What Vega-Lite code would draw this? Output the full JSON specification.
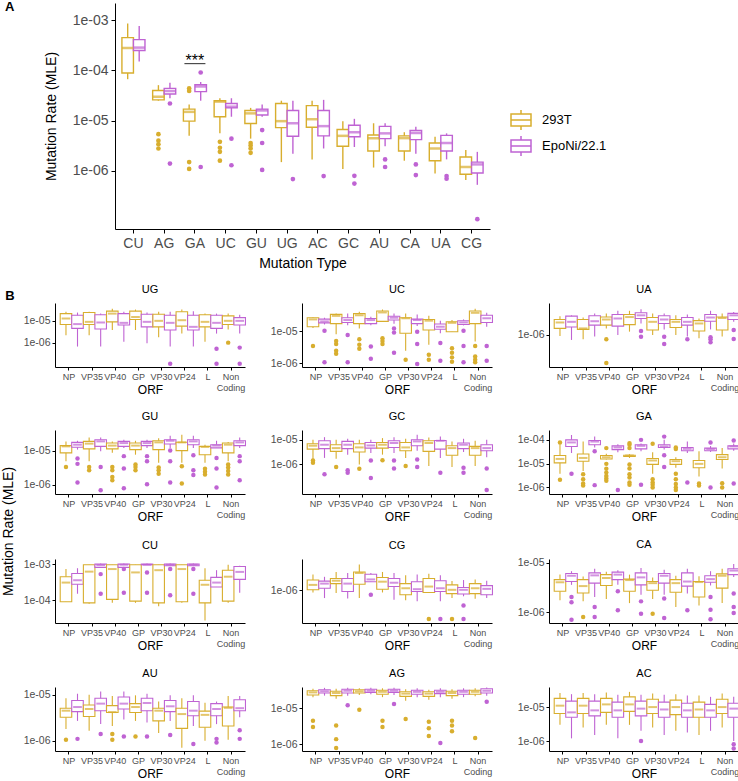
{
"$schema":"https://vega.github.io/schema/vega-lite/v6.json",
"padding":{"left":2,"top":1,"right":0,"bottom":0},
"datasets":{
"boxA":[
{"t":"CU","c":"293T","lo":6.7e-5,"q1":8.9e-5,"md":2.8e-4,"q3":4.5e-4,"hi":8.6e-4},
{"t":"CU","c":"EpoNi/22.1","lo":1.5e-4,"q1":2.5e-4,"md":2.85e-4,"q3":4.1e-4,"hi":7.7e-4},
{"t":"AG","c":"293T","lo":2.5e-5,"q1":2.6e-5,"md":3.0e-5,"q3":4.0e-5,"hi":5.1e-5},
{"t":"AG","c":"EpoNi/22.1","lo":2.8e-5,"q1":3.4e-5,"md":3.9e-5,"q3":4.4e-5,"hi":5.7e-5},
{"t":"GA","c":"293T","lo":5.0e-6,"q1":9.8e-6,"md":1.5e-5,"q3":1.7e-5,"hi":2.1e-5},
{"t":"GA","c":"EpoNi/22.1","lo":2.5e-5,"q1":3.8e-5,"md":4.8e-5,"q3":5.2e-5,"hi":5.9e-5},
{"t":"UC","c":"293T","lo":5.6e-6,"q1":1.2e-5,"md":2.4e-5,"q3":2.5e-5,"hi":2.8e-5},
{"t":"UC","c":"EpoNi/22.1","lo":1.2e-5,"q1":1.8e-5,"md":1.9e-5,"q3":2.2e-5,"hi":2.8e-5},
{"t":"GU","c":"293T","lo":4.4e-6,"q1":8.8e-6,"md":1.4e-5,"q3":1.6e-5,"hi":1.8e-5},
{"t":"GU","c":"EpoNi/22.1","lo":1.2e-5,"q1":1.3e-5,"md":1.6e-5,"q3":1.7e-5,"hi":2.1e-5},
{"t":"UG","c":"293T","lo":1.5e-6,"q1":7.3e-6,"md":9.8e-6,"q3":2.2e-5,"hi":2.5e-5},
{"t":"UG","c":"EpoNi/22.1","lo":2.2e-6,"q1":4.9e-6,"md":8.9e-6,"q3":1.6e-5,"hi":2.5e-5},
{"t":"AC","c":"293T","lo":1.7e-6,"q1":7.4e-6,"md":1.07e-5,"q3":2.0e-5,"hi":2.5e-5},
{"t":"AC","c":"EpoNi/22.1","lo":2.8e-6,"q1":5.0e-6,"md":7.8e-6,"q3":1.6e-5,"hi":2.6e-5},
{"t":"GC","c":"293T","lo":1.1e-6,"q1":3.1e-6,"md":5.0e-6,"q3":6.7e-6,"hi":9.8e-6},
{"t":"GC","c":"EpoNi/22.1","lo":3.0e-6,"q1":4.8e-6,"md":5.9e-6,"q3":8.1e-6,"hi":1.09e-5},
{"t":"AU","c":"293T","lo":1.17e-6,"q1":2.5e-6,"md":4.5e-6,"q3":5.2e-6,"hi":8.9e-6},
{"t":"AU","c":"EpoNi/22.1","lo":3.1e-6,"q1":4.4e-6,"md":5.6e-6,"q3":7.7e-6,"hi":8.9e-6},
{"t":"CA","c":"293T","lo":1.6e-6,"q1":2.5e-6,"md":4.5e-6,"q3":5.0e-6,"hi":5.9e-6},
{"t":"CA","c":"EpoNi/22.1","lo":2.2e-6,"q1":4.2e-6,"md":5.7e-6,"q3":6.4e-6,"hi":7.6e-6},
{"t":"UA","c":"293T","lo":8.9e-7,"q1":1.6e-6,"md":2.8e-6,"q3":3.6e-6,"hi":4.8e-6},
{"t":"UA","c":"EpoNi/22.1","lo":1.7e-6,"q1":2.5e-6,"md":3.6e-6,"q3":5.1e-6,"hi":5.6e-6},
{"t":"CG","c":"293T","lo":6.6e-7,"q1":8.6e-7,"md":1.2e-6,"q3":1.9e-6,"hi":2.6e-6},
{"t":"CG","c":"EpoNi/22.1","lo":5.3e-7,"q1":9.1e-7,"md":1.35e-6,"q3":1.5e-6,"hi":2.4e-6}
],
"ptsA":[
{"t":"AG","c":"293T","v":5.4e-6},{"t":"AG","c":"293T","v":4.0e-6},{"t":"AG","c":"293T","v":3.4e-6},{"t":"AG","c":"293T","v":2.8e-6},
{"t":"AG","c":"EpoNi/22.1","v":2.2e-5},{"t":"AG","c":"EpoNi/22.1","v":1.4e-6},
{"t":"GA","c":"293T","v":4.4e-5},{"t":"GA","c":"293T","v":3.9e-5},{"t":"GA","c":"293T","v":1.5e-6},{"t":"GA","c":"293T","v":1.1e-6},
{"t":"GA","c":"EpoNi/22.1","v":9.1e-5},{"t":"GA","c":"EpoNi/22.1","v":1.2e-6},
{"t":"UC","c":"293T","v":3.8e-6},{"t":"UC","c":"293T","v":2.9e-6},{"t":"UC","c":"293T","v":2.4e-6},{"t":"UC","c":"293T","v":1.6e-6},
{"t":"UC","c":"EpoNi/22.1","v":4.4e-6},{"t":"UC","c":"EpoNi/22.1","v":1.3e-6},
{"t":"GU","c":"293T","v":3.6e-6},{"t":"GU","c":"293T","v":3.2e-6},{"t":"GU","c":"293T","v":2.8e-6},{"t":"GU","c":"293T","v":2.3e-6},
{"t":"GU","c":"EpoNi/22.1","v":6.5e-6},{"t":"GU","c":"EpoNi/22.1","v":3.6e-6},{"t":"GU","c":"EpoNi/22.1","v":1.05e-6},
{"t":"UG","c":"EpoNi/22.1","v":6.9e-7},
{"t":"AC","c":"EpoNi/22.1","v":7.9e-7},
{"t":"GC","c":"EpoNi/22.1","v":8.0e-7},{"t":"GC","c":"EpoNi/22.1","v":5.6e-7},
{"t":"AU","c":"EpoNi/22.1","v":1.7e-6},{"t":"AU","c":"EpoNi/22.1","v":1.2e-6},
{"t":"CA","c":"EpoNi/22.1","v":1.35e-6},{"t":"CA","c":"EpoNi/22.1","v":8.3e-7},
{"t":"UA","c":"EpoNi/22.1","v":7.9e-7},{"t":"UA","c":"EpoNi/22.1","v":7.0e-7},
{"t":"CG","c":"EpoNi/22.1","v":1.1e-7}
],
"annot":[{"t":"GA","y":1.37e-4,"ty":1.23e-4,"label":"***"}],
"boxB":[
{"p":"UG","o":"NP","c":"293T","lo":2.2e-6,"q1":6.8e-6,"md":1.28e-5,"q3":2.15e-5,"hi":2.6e-5},
{"p":"UG","o":"NP","c":"EpoNi/22.1","lo":6.6e-7,"q1":4.5e-6,"md":7.1e-6,"q3":1.8e-5,"hi":2.4e-5},
{"p":"UG","o":"VP35","c":"293T","lo":2.2e-6,"q1":6.8e-6,"md":9.0e-6,"q3":2.4e-5,"hi":2.6e-5},
{"p":"UG","o":"VP35","c":"EpoNi/22.1","lo":6.6e-7,"q1":4.2e-6,"md":8.4e-6,"q3":1.9e-5,"hi":2.15e-5},
{"p":"UG","o":"VP40","c":"293T","lo":3.8e-6,"q1":9.0e-6,"md":2.15e-5,"q3":2.8e-5,"hi":3.6e-5},
{"p":"UG","o":"VP40","c":"EpoNi/22.1","lo":1.1e-6,"q1":6.4e-6,"md":8.1e-6,"q3":2.15e-5,"hi":2.6e-5},
{"p":"UG","o":"GP","c":"293T","lo":3.8e-6,"q1":1.15e-5,"md":1.5e-5,"q3":2.8e-5,"hi":3.3e-5},
{"p":"UG","o":"GP","c":"EpoNi/22.1","lo":9.3e-7,"q1":5.3e-6,"md":9.0e-6,"q3":2.0e-5,"hi":2.4e-5},
{"p":"UG","o":"VP30","c":"293T","lo":1.75e-6,"q1":5.3e-6,"md":1.0e-5,"q3":2.0e-5,"hi":2.6e-5},
{"p":"UG","o":"VP30","c":"EpoNi/22.1","lo":6.6e-7,"q1":3.8e-6,"md":8.1e-6,"q3":1.8e-5,"hi":2.6e-5},
{"p":"UG","o":"VP24","c":"293T","lo":2.6e-6,"q1":5.7e-6,"md":1.07e-5,"q3":2.6e-5,"hi":3.3e-5},
{"p":"UG","o":"VP24","c":"EpoNi/22.1","lo":6.6e-7,"q1":3.8e-6,"md":5.3e-6,"q3":1.8e-5,"hi":2.75e-5},
{"p":"UG","o":"L","c":"293T","lo":1.1e-6,"q1":5.3e-6,"md":9.0e-6,"q3":1.9e-5,"hi":2.15e-5},
{"p":"UG","o":"L","c":"EpoNi/22.1","lo":2.6e-6,"q1":4.5e-6,"md":8.1e-6,"q3":1.8e-5,"hi":2.15e-5},
{"p":"UG","o":"Non Coding","c":"293T","lo":4.0e-6,"q1":6.8e-6,"md":1.0e-5,"q3":1.7e-5,"hi":2.15e-5},
{"p":"UG","o":"Non Coding","c":"EpoNi/22.1","lo":2.6e-6,"q1":6.4e-6,"md":1.0e-5,"q3":1.4e-5,"hi":1.9e-5},
{"p":"UC","o":"NP","c":"293T","lo":1.25e-5,"q1":1.36e-5,"md":2.3e-5,"q3":2.6e-5,"hi":2.7e-5},
{"p":"UC","o":"NP","c":"EpoNi/22.1","lo":1.6e-5,"q1":1.8e-5,"md":2.0e-5,"q3":2.35e-5,"hi":2.6e-5},
{"p":"UC","o":"VP35","c":"293T","lo":7.9e-6,"q1":1.7e-5,"md":2.97e-5,"q3":3.3e-5,"hi":3.5e-5},
{"p":"UC","o":"VP35","c":"EpoNi/22.1","lo":1.5e-5,"q1":1.85e-5,"md":2.2e-5,"q3":2.6e-5,"hi":3.5e-5},
{"p":"UC","o":"VP40","c":"293T","lo":1.2e-5,"q1":1.7e-5,"md":3.1e-5,"q3":3.5e-5,"hi":4.0e-5},
{"p":"UC","o":"VP40","c":"EpoNi/22.1","lo":1.5e-5,"q1":1.7e-5,"md":2.2e-5,"q3":2.45e-5,"hi":2.8e-5},
{"p":"UC","o":"GP","c":"293T","lo":1.95e-5,"q1":2.0e-5,"md":3.8e-5,"q3":4.2e-5,"hi":4.7e-5},
{"p":"UC","o":"GP","c":"EpoNi/22.1","lo":1.7e-5,"q1":2.2e-5,"md":2.6e-5,"q3":2.9e-5,"hi":3.5e-5},
{"p":"UC","o":"VP30","c":"293T","lo":2.4e-6,"q1":8.5e-6,"md":2.5e-5,"q3":2.6e-5,"hi":3.5e-5},
{"p":"UC","o":"VP30","c":"EpoNi/22.1","lo":1.43e-5,"q1":1.7e-5,"md":2.2e-5,"q3":2.35e-5,"hi":3.3e-5},
{"p":"UC","o":"VP24","c":"293T","lo":3.7e-6,"q1":1.07e-5,"md":2.1e-5,"q3":2.3e-5,"hi":3.0e-5},
{"p":"UC","o":"VP24","c":"EpoNi/22.1","lo":8.5e-6,"q1":1.13e-5,"md":1.36e-5,"q3":1.65e-5,"hi":2.1e-5},
{"p":"UC","o":"L","c":"293T","lo":9.5e-6,"q1":9.5e-6,"md":1.8e-5,"q3":1.95e-5,"hi":2.2e-5},
{"p":"UC","o":"L","c":"EpoNi/22.1","lo":1.5e-5,"q1":1.6e-5,"md":1.85e-5,"q3":2.1e-5,"hi":2.3e-5},
{"p":"UC","o":"Non Coding","c":"293T","lo":4.7e-6,"q1":1.7e-5,"md":3.7e-5,"q3":4.2e-5,"hi":5.0e-5},
{"p":"UC","o":"Non Coding","c":"EpoNi/22.1","lo":1.36e-5,"q1":1.85e-5,"md":2.5e-5,"q3":3.1e-5,"hi":3.7e-5},
{"p":"UA","o":"NP","c":"293T","lo":9.4e-7,"q1":1.55e-6,"md":2.3e-6,"q3":2.8e-6,"hi":3.5e-6},
{"p":"UA","o":"NP","c":"EpoNi/22.1","lo":7.2e-7,"q1":1.7e-6,"md":2.4e-6,"q3":3.5e-6,"hi":3.7e-6},
{"p":"UA","o":"VP35","c":"293T","lo":7.5e-7,"q1":1.45e-6,"md":1.55e-6,"q3":2.8e-6,"hi":3.2e-6},
{"p":"UA","o":"VP35","c":"EpoNi/22.1","lo":9.0e-7,"q1":1.93e-6,"md":2.5e-6,"q3":3.6e-6,"hi":4.2e-6},
{"p":"UA","o":"VP40","c":"293T","lo":1.55e-6,"q1":1.93e-6,"md":2.8e-6,"q3":3.3e-6,"hi":4.2e-6},
{"p":"UA","o":"VP40","c":"EpoNi/22.1","lo":1.0e-6,"q1":1.8e-6,"md":3.0e-6,"q3":3.9e-6,"hi":5.0e-6},
{"p":"UA","o":"GP","c":"293T","lo":1.25e-6,"q1":2.0e-6,"md":3.3e-6,"q3":3.9e-6,"hi":5.0e-6},
{"p":"UA","o":"GP","c":"EpoNi/22.1","lo":2.15e-6,"q1":3.0e-6,"md":3.7e-6,"q3":4.4e-6,"hi":5.5e-6},
{"p":"UA","o":"VP30","c":"293T","lo":1.0e-6,"q1":1.4e-6,"md":2.4e-6,"q3":3.2e-6,"hi":4.2e-6},
{"p":"UA","o":"VP30","c":"EpoNi/22.1","lo":1.45e-6,"q1":2.15e-6,"md":2.8e-6,"q3":3.6e-6,"hi":4.2e-6},
{"p":"UA","o":"VP24","c":"293T","lo":1.0e-6,"q1":1.65e-6,"md":2.4e-6,"q3":2.8e-6,"hi":3.7e-6},
{"p":"UA","o":"VP24","c":"EpoNi/22.1","lo":9.0e-7,"q1":1.93e-6,"md":2.4e-6,"q3":3.2e-6,"hi":3.9e-6},
{"p":"UA","o":"L","c":"293T","lo":8.0e-7,"q1":1.3e-6,"md":2.15e-6,"q3":2.6e-6,"hi":3.0e-6},
{"p":"UA","o":"L","c":"EpoNi/22.1","lo":1.45e-6,"q1":2.5e-6,"md":3.2e-6,"q3":3.9e-6,"hi":5.0e-6},
{"p":"UA","o":"Non Coding","c":"293T","lo":9.0e-7,"q1":1.4e-6,"md":3.1e-6,"q3":3.3e-6,"hi":4.2e-6},
{"p":"UA","o":"Non Coding","c":"EpoNi/22.1","lo":2.4e-6,"q1":2.8e-6,"md":3.7e-6,"q3":4.2e-6,"hi":4.6e-6},
{"p":"GU","o":"NP","c":"293T","lo":4.9e-6,"q1":8.6e-6,"md":1.33e-5,"q3":1.4e-5,"hi":1.86e-5},
{"p":"GU","o":"NP","c":"EpoNi/22.1","lo":1.07e-5,"q1":1.25e-5,"md":1.49e-5,"q3":1.74e-5,"hi":1.94e-5},
{"p":"GU","o":"VP35","c":"293T","lo":4.9e-6,"q1":1.12e-5,"md":1.6e-5,"q3":1.86e-5,"hi":2.4e-5},
{"p":"GU","o":"VP35","c":"EpoNi/22.1","lo":9.6e-6,"q1":1.33e-5,"md":1.86e-5,"q3":2.07e-5,"hi":2.4e-5},
{"p":"GU","o":"VP40","c":"293T","lo":8.6e-6,"q1":1.12e-5,"md":1.4e-5,"q3":1.66e-5,"hi":1.86e-5},
{"p":"GU","o":"VP40","c":"EpoNi/22.1","lo":1.2e-5,"q1":1.33e-5,"md":1.66e-5,"q3":1.86e-5,"hi":2.07e-5},
{"p":"GU","o":"GP","c":"293T","lo":7.6e-6,"q1":1.07e-5,"md":1.4e-5,"q3":1.66e-5,"hi":1.94e-5},
{"p":"GU","o":"GP","c":"EpoNi/22.1","lo":1.2e-5,"q1":1.4e-5,"md":1.66e-5,"q3":1.86e-5,"hi":2.07e-5},
{"p":"GU","o":"VP30","c":"293T","lo":4.4e-6,"q1":1.07e-5,"md":1.74e-5,"q3":1.94e-5,"hi":2.3e-5},
{"p":"GU","o":"VP30","c":"EpoNi/22.1","lo":1.2e-5,"q1":1.56e-5,"md":1.94e-5,"q3":2.07e-5,"hi":2.7e-5},
{"p":"GU","o":"VP24","c":"293T","lo":4.4e-6,"q1":1.0e-5,"md":1.74e-5,"q3":1.76e-5,"hi":2.9e-5},
{"p":"GU","o":"VP24","c":"EpoNi/22.1","lo":1.2e-5,"q1":1.49e-5,"md":1.86e-5,"q3":2.07e-5,"hi":2.7e-5},
{"p":"GU","o":"L","c":"293T","lo":4.4e-6,"q1":7.6e-6,"md":1.28e-5,"q3":1.33e-5,"hi":1.49e-5},
{"p":"GU","o":"L","c":"EpoNi/22.1","lo":1.2e-5,"q1":1.2e-5,"md":1.4e-5,"q3":1.49e-5,"hi":1.94e-5},
{"p":"GU","o":"Non Coding","c":"293T","lo":4.9e-6,"q1":8.6e-6,"md":1.49e-5,"q3":1.66e-5,"hi":1.78e-5},
{"p":"GU","o":"Non Coding","c":"EpoNi/22.1","lo":1.2e-5,"q1":1.4e-5,"md":1.74e-5,"q3":1.94e-5,"hi":2.4e-5},
{"p":"GC","o":"NP","c":"293T","lo":1.58e-6,"q1":4.2e-6,"md":5.75e-6,"q3":6.9e-6,"hi":1.0e-5},
{"p":"GC","o":"NP","c":"EpoNi/22.1","lo":1.84e-6,"q1":4.4e-6,"md":6.3e-6,"q3":9.1e-6,"hi":1.28e-5},
{"p":"GC","o":"VP35","c":"293T","lo":1.69e-6,"q1":3.4e-6,"md":4.6e-6,"q3":6.3e-6,"hi":1.0e-5},
{"p":"GC","o":"VP35","c":"EpoNi/22.1","lo":2.5e-6,"q1":4.4e-6,"md":6.3e-6,"q3":8.6e-6,"hi":1.1e-5},
{"p":"GC","o":"VP40","c":"293T","lo":1.0e-6,"q1":3.2e-6,"md":4.9e-6,"q3":6.9e-6,"hi":1.0e-5},
{"p":"GC","o":"VP40","c":"EpoNi/22.1","lo":2.9e-6,"q1":4.6e-6,"md":5.9e-6,"q3":7.8e-6,"hi":1.0e-5},
{"p":"GC","o":"GP","c":"293T","lo":2.5e-6,"q1":4.6e-6,"md":6.3e-6,"q3":7.8e-6,"hi":1.17e-5},
{"p":"GC","o":"GP","c":"EpoNi/22.1","lo":2.9e-6,"q1":4.9e-6,"md":7.4e-6,"q3":9.1e-6,"hi":1.28e-5},
{"p":"GC","o":"VP30","c":"293T","lo":1.84e-6,"q1":3.6e-6,"md":4.9e-6,"q3":7.8e-6,"hi":1.1e-5},
{"p":"GC","o":"VP30","c":"EpoNi/22.1","lo":3.6e-6,"q1":5.75e-6,"md":8.6e-6,"q3":1.0e-5,"hi":1.6e-5},
{"p":"GC","o":"VP24","c":"293T","lo":8.6e-7,"q1":3.4e-6,"md":7.4e-6,"q3":9.1e-6,"hi":1.24e-5},
{"p":"GC","o":"VP24","c":"EpoNi/22.1","lo":1.84e-6,"q1":4.2e-6,"md":9.1e-6,"q3":9.4e-6,"hi":1.36e-5},
{"p":"GC","o":"L","c":"293T","lo":7.8e-7,"q1":2.36e-6,"md":4.6e-6,"q3":5.75e-6,"hi":8.6e-6},
{"p":"GC","o":"L","c":"EpoNi/22.1","lo":3.2e-6,"q1":4.4e-6,"md":6.3e-6,"q3":7.4e-6,"hi":1.1e-5},
{"p":"GC","o":"Non Coding","c":"293T","lo":8.6e-7,"q1":2.36e-6,"md":4.6e-6,"q3":5.4e-6,"hi":9.1e-6},
{"p":"GC","o":"Non Coding","c":"EpoNi/22.1","lo":1.96e-6,"q1":3.6e-6,"md":4.6e-6,"q3":6.3e-6,"hi":1.0e-5},
{"p":"GA","o":"NP","c":"293T","lo":3.8e-6,"q1":1.08e-5,"md":1.58e-5,"q3":2.2e-5,"hi":6.6e-5},
{"p":"GA","o":"NP","c":"EpoNi/22.1","lo":2.8e-5,"q1":5.3e-5,"md":7.8e-5,"q3":1.0e-4,"hi":1.6e-4},
{"p":"GA","o":"VP35","c":"293T","lo":4.9e-6,"q1":1.27e-5,"md":1.74e-5,"q3":2.55e-5,"hi":8.5e-5},
{"p":"GA","o":"VP35","c":"EpoNi/22.1","lo":4.8e-5,"q1":6.2e-5,"md":8.5e-5,"q3":9.4e-5,"hi":1.37e-4},
{"p":"GA","o":"VP40","c":"293T","lo":1.5e-5,"q1":1.58e-5,"md":1.86e-5,"q3":2.2e-5,"hi":2.6e-5},
{"p":"GA","o":"VP40","c":"EpoNi/22.1","lo":3.0e-5,"q1":3.9e-5,"md":4.8e-5,"q3":5.6e-5,"hi":6.6e-5},
{"p":"GA","o":"GP","c":"293T","lo":1.74e-5,"q1":2.0e-5,"md":2.2e-5,"q3":2.25e-5,"hi":2.5e-5},
{"p":"GA","o":"GP","c":"EpoNi/22.1","lo":3.3e-5,"q1":4.2e-5,"md":5.6e-5,"q3":6.2e-5,"hi":7.0e-5},
{"p":"GA","o":"VP30","c":"293T","lo":3.8e-6,"q1":9.3e-6,"md":1.36e-5,"q3":1.64e-5,"hi":3.0e-5},
{"p":"GA","o":"VP30","c":"EpoNi/22.1","lo":3.9e-5,"q1":4.8e-5,"md":5.3e-5,"q3":6.2e-5,"hi":1.0e-4},
{"p":"GA","o":"VP24","c":"293T","lo":6.7e-6,"q1":9.3e-6,"md":1.27e-5,"q3":1.5e-5,"hi":1.86e-5},
{"p":"GA","o":"VP24","c":"EpoNi/22.1","lo":2.8e-5,"q1":3.5e-5,"md":4.2e-5,"q3":4.8e-5,"hi":8.5e-5},
{"p":"GA","o":"L","c":"293T","lo":2.9e-6,"q1":6.7e-6,"md":9.8e-6,"q3":1.36e-5,"hi":3.3e-5},
{"p":"GA","o":"L","c":"EpoNi/22.1","lo":3.1e-5,"q1":3.5e-5,"md":4.1e-5,"q3":4.5e-5,"hi":5.5e-5},
{"p":"GA","o":"Non Coding","c":"293T","lo":6.3e-6,"q1":1.5e-5,"md":1.86e-5,"q3":2.4e-5,"hi":4.5e-5},
{"p":"GA","o":"Non Coding","c":"EpoNi/22.1","lo":3.5e-5,"q1":4.2e-5,"md":5.3e-5,"q3":5.6e-5,"hi":7.0e-5},
{"p":"CU","o":"NP","c":"293T","lo":9.2e-5,"q1":9.2e-5,"md":3.1e-4,"q3":4.5e-4,"hi":7.3e-4},
{"p":"CU","o":"NP","c":"EpoNi/22.1","lo":1.53e-4,"q1":2.8e-4,"md":3.6e-4,"q3":5.5e-4,"hi":7.7e-4},
{"p":"CU","o":"VP35","c":"293T","lo":8.1e-5,"q1":8.6e-5,"md":6.2e-4,"q3":9.6e-4,"hi":9.6e-4},
{"p":"CU","o":"VP35","c":"EpoNi/22.1","lo":8.1e-4,"q1":8.1e-4,"md":9.4e-4,"q3":1.0e-3,"hi":1.04e-3},
{"p":"CU","o":"VP40","c":"293T","lo":8.6e-5,"q1":1.07e-4,"md":7.3e-4,"q3":9.6e-4,"hi":9.6e-4},
{"p":"CU","o":"VP40","c":"EpoNi/22.1","lo":8.1e-4,"q1":8.1e-4,"md":9.6e-4,"q3":1.0e-3,"hi":1.04e-3},
{"p":"CU","o":"GP","c":"293T","lo":8.6e-5,"q1":9.6e-5,"md":5.9e-4,"q3":9.6e-4,"hi":9.6e-4},
{"p":"CU","o":"GP","c":"EpoNi/22.1","lo":9.6e-4,"q1":9.6e-4,"md":9.6e-4,"q3":1.0e-3,"hi":1.04e-3},
{"p":"CU","o":"VP30","c":"293T","lo":6.9e-5,"q1":8.6e-5,"md":6.8e-4,"q3":9.6e-4,"hi":9.6e-4},
{"p":"CU","o":"VP30","c":"EpoNi/22.1","lo":9.0e-4,"q1":9.0e-4,"md":9.6e-4,"q3":1.0e-3,"hi":1.04e-3},
{"p":"CU","o":"VP24","c":"293T","lo":8.6e-5,"q1":9.2e-5,"md":7.3e-4,"q3":9.6e-4,"hi":9.6e-4},
{"p":"CU","o":"VP24","c":"EpoNi/22.1","lo":9.0e-4,"q1":9.0e-4,"md":9.6e-4,"q3":1.0e-3,"hi":1.04e-3},
{"p":"CU","o":"L","c":"293T","lo":2.8e-5,"q1":8.6e-5,"md":2.7e-4,"q3":3.6e-4,"hi":7.7e-4},
{"p":"CU","o":"L","c":"EpoNi/22.1","lo":2.35e-4,"q1":2.35e-4,"md":3.1e-4,"q3":4.3e-4,"hi":6.8e-4},
{"p":"CU","o":"Non Coding","c":"293T","lo":8.6e-5,"q1":9.6e-5,"md":4.5e-4,"q3":6.8e-4,"hi":9.6e-4},
{"p":"CU","o":"Non Coding","c":"EpoNi/22.1","lo":1.63e-4,"q1":3.8e-4,"md":6.1e-4,"q3":8.6e-4,"hi":9.0e-4},
{"p":"CG","o":"NP","c":"293T","lo":8.9e-7,"q1":1.04e-6,"md":1.39e-6,"q3":1.85e-6,"hi":2.56e-6},
{"p":"CG","o":"NP","c":"EpoNi/22.1","lo":6.4e-7,"q1":1.14e-6,"md":1.5e-6,"q3":1.74e-6,"hi":2.24e-6},
{"p":"CG","o":"VP35","c":"293T","lo":8.6e-7,"q1":1.5e-6,"md":1.78e-6,"q3":2.03e-6,"hi":2.98e-6},
{"p":"CG","o":"VP35","c":"EpoNi/22.1","lo":6.2e-7,"q1":9.4e-7,"md":1.5e-6,"q3":2.03e-6,"hi":2.8e-6},
{"p":"CG","o":"VP40","c":"293T","lo":6.4e-7,"q1":1.44e-6,"md":2.8e-6,"q3":2.98e-6,"hi":4.6e-6},
{"p":"CG","o":"VP40","c":"EpoNi/22.1","lo":1.68e-6,"q1":1.68e-6,"md":1.92e-6,"q3":2.6e-6,"hi":2.8e-6},
{"p":"CG","o":"GP","c":"293T","lo":8.9e-7,"q1":1.08e-6,"md":1.68e-6,"q3":2.15e-6,"hi":2.98e-6},
{"p":"CG","o":"GP","c":"EpoNi/22.1","lo":5.8e-7,"q1":1.26e-6,"md":1.58e-6,"q3":2.03e-6,"hi":2.8e-6},
{"p":"CG","o":"VP30","c":"293T","lo":5.6e-7,"q1":7.8e-7,"md":1.14e-6,"q3":1.5e-6,"hi":2.46e-6},
{"p":"CG","o":"VP30","c":"EpoNi/22.1","lo":5.3e-7,"q1":9.4e-7,"md":1.08e-6,"q3":1.68e-6,"hi":2.56e-6},
{"p":"CG","o":"VP24","c":"293T","lo":8.9e-7,"q1":8.9e-7,"md":1.26e-6,"q3":2.03e-6,"hi":2.7e-6},
{"p":"CG","o":"VP24","c":"EpoNi/22.1","lo":5.3e-7,"q1":9.4e-7,"md":1.14e-6,"q3":1.78e-6,"hi":2.46e-6},
{"p":"CG","o":"L","c":"293T","lo":6.4e-7,"q1":8.3e-7,"md":1.04e-6,"q3":1.39e-6,"hi":1.74e-6},
{"p":"CG","o":"L","c":"EpoNi/22.1","lo":7.1e-7,"q1":8.1e-7,"md":1.04e-6,"q3":1.19e-6,"hi":1.85e-6},
{"p":"CG","o":"Non Coding","c":"293T","lo":6.1e-7,"q1":8.3e-7,"md":1.14e-6,"q3":1.5e-6,"hi":1.92e-6},
{"p":"CG","o":"Non Coding","c":"EpoNi/22.1","lo":6.4e-7,"q1":7.8e-7,"md":1.1e-6,"q3":1.33e-6,"hi":1.78e-6},
{"p":"CA","o":"NP","c":"293T","lo":1.75e-6,"q1":2.67e-6,"md":4.06e-6,"q3":4.6e-6,"hi":5.8e-6},
{"p":"CA","o":"NP","c":"EpoNi/22.1","lo":3.6e-6,"q1":4.2e-6,"md":5.5e-6,"q3":6.1e-6,"hi":6.8e-6},
{"p":"CA","o":"VP35","c":"293T","lo":1.67e-6,"q1":2.47e-6,"md":3.4e-6,"q3":4.6e-6,"hi":5.3e-6},
{"p":"CA","o":"VP35","c":"EpoNi/22.1","lo":2.05e-6,"q1":3.9e-6,"md":5.6e-6,"q3":6.3e-6,"hi":7.6e-6},
{"p":"CA","o":"VP40","c":"293T","lo":1.86e-6,"q1":3.5e-6,"md":4.96e-6,"q3":5.8e-6,"hi":6.6e-6},
{"p":"CA","o":"VP40","c":"EpoNi/22.1","lo":3.6e-6,"q1":4.6e-6,"md":5.8e-6,"q3":6.5e-6,"hi":7.1e-6},
{"p":"CA","o":"GP","c":"293T","lo":1.54e-6,"q1":2.67e-6,"md":4.5e-6,"q3":4.7e-6,"hi":5.8e-6},
{"p":"CA","o":"GP","c":"EpoNi/22.1","lo":2.28e-6,"q1":3.6e-6,"md":5.1e-6,"q3":6.3e-6,"hi":7.9e-6},
{"p":"CA","o":"VP30","c":"293T","lo":1.86e-6,"q1":2.8e-6,"md":3.9e-6,"q3":4.2e-6,"hi":5.1e-6},
{"p":"CA","o":"VP30","c":"EpoNi/22.1","lo":2.28e-6,"q1":3.9e-6,"md":5.5e-6,"q3":6.1e-6,"hi":7.3e-6},
{"p":"CA","o":"VP24","c":"293T","lo":1.28e-6,"q1":2.55e-6,"md":3.9e-6,"q3":4.6e-6,"hi":5.5e-6},
{"p":"CA","o":"VP24","c":"EpoNi/22.1","lo":2.4e-6,"q1":3.4e-6,"md":4.2e-6,"q3":6.3e-6,"hi":7.6e-6},
{"p":"CA","o":"L","c":"293T","lo":1.37e-6,"q1":2.05e-6,"md":4.1e-6,"q3":4.2e-6,"hi":5.4e-6},
{"p":"CA","o":"L","c":"EpoNi/22.1","lo":3.5e-6,"q1":4.06e-6,"md":4.7e-6,"q3":5.5e-6,"hi":6.8e-6},
{"p":"CA","o":"Non Coding","c":"293T","lo":1.54e-6,"q1":3.1e-6,"md":5.5e-6,"q3":6.0e-6,"hi":7.6e-6},
{"p":"CA","o":"Non Coding","c":"EpoNi/22.1","lo":5.2e-6,"q1":5.8e-6,"md":7.0e-6,"q3":7.6e-6,"hi":9.5e-6},
{"p":"AU","o":"NP","c":"293T","lo":1.8e-6,"q1":3.24e-6,"md":4.5e-6,"q3":5.1e-6,"hi":8.4e-6},
{"p":"AU","o":"NP","c":"EpoNi/22.1","lo":2.7e-6,"q1":4.3e-6,"md":5.4e-6,"q3":7.5e-6,"hi":1.05e-5},
{"p":"AU","o":"VP35","c":"293T","lo":1.65e-6,"q1":3.36e-6,"md":4.9e-6,"q3":6.0e-6,"hi":1.0e-5},
{"p":"AU","o":"VP35","c":"EpoNi/22.1","lo":2.3e-6,"q1":4.5e-6,"md":6.4e-6,"q3":8.4e-6,"hi":1.18e-5},
{"p":"AU","o":"VP40","c":"293T","lo":2.1e-6,"q1":4.1e-6,"md":4.2e-6,"q3":5.8e-6,"hi":9.4e-6},
{"p":"AU","o":"VP40","c":"EpoNi/22.1","lo":2.9e-6,"q1":4.9e-6,"md":6.4e-6,"q3":8.9e-6,"hi":1.18e-5},
{"p":"AU","o":"GP","c":"293T","lo":2.7e-6,"q1":4.1e-6,"md":5.4e-6,"q3":6.4e-6,"hi":9.7e-6},
{"p":"AU","o":"GP","c":"EpoNi/22.1","lo":2.5e-6,"q1":4.5e-6,"md":6.6e-6,"q3":8.4e-6,"hi":1.05e-5},
{"p":"AU","o":"VP30","c":"293T","lo":1.47e-6,"q1":2.7e-6,"md":4.5e-6,"q3":5.1e-6,"hi":7.1e-6},
{"p":"AU","o":"VP30","c":"EpoNi/22.1","lo":2.7e-6,"q1":4.3e-6,"md":5.6e-6,"q3":7.5e-6,"hi":9.7e-6},
{"p":"AU","o":"VP24","c":"293T","lo":7.1e-7,"q1":1.86e-6,"md":3.8e-6,"q3":5.1e-6,"hi":8.4e-6},
{"p":"AU","o":"VP24","c":"EpoNi/22.1","lo":2.1e-6,"q1":3.5e-6,"md":4.5e-6,"q3":7.1e-6,"hi":9.7e-6},
{"p":"AU","o":"L","c":"293T","lo":1.0e-6,"q1":1.96e-6,"md":3.65e-6,"q3":4.4e-6,"hi":6.7e-6},
{"p":"AU","o":"L","c":"EpoNi/22.1","lo":2.3e-6,"q1":3.5e-6,"md":4.9e-6,"q3":6.4e-6,"hi":7.1e-6},
{"p":"AU","o":"Non Coding","c":"293T","lo":1.05e-6,"q1":2.1e-6,"md":5.2e-6,"q3":5.4e-6,"hi":9.4e-6},
{"p":"AU","o":"Non Coding","c":"EpoNi/22.1","lo":3.24e-6,"q1":4.5e-6,"md":5.1e-6,"q3":7.8e-6,"hi":9.4e-6},
{"p":"AG","o":"NP","c":"293T","lo":2.0e-5,"q1":2.3e-5,"md":2.7e-5,"q3":3.0e-5,"hi":3.4e-5},
{"p":"AG","o":"NP","c":"EpoNi/22.1","lo":2.2e-5,"q1":2.6e-5,"md":2.9e-5,"q3":3.2e-5,"hi":3.6e-5},
{"p":"AG","o":"VP35","c":"293T","lo":1.8e-5,"q1":2.2e-5,"md":2.6e-5,"q3":2.9e-5,"hi":3.4e-5},
{"p":"AG","o":"VP35","c":"EpoNi/22.1","lo":2.2e-5,"q1":2.6e-5,"md":3.0e-5,"q3":3.3e-5,"hi":3.6e-5},
{"p":"AG","o":"VP40","c":"293T","lo":2.3e-5,"q1":2.6e-5,"md":2.9e-5,"q3":3.2e-5,"hi":3.5e-5},
{"p":"AG","o":"VP40","c":"EpoNi/22.1","lo":2.4e-5,"q1":2.7e-5,"md":3.0e-5,"q3":3.3e-5,"hi":3.6e-5},
{"p":"AG","o":"GP","c":"293T","lo":2.0e-5,"q1":2.4e-5,"md":2.8e-5,"q3":3.1e-5,"hi":3.5e-5},
{"p":"AG","o":"GP","c":"EpoNi/22.1","lo":2.3e-5,"q1":2.7e-5,"md":3.0e-5,"q3":3.3e-5,"hi":3.6e-5},
{"p":"AG","o":"VP30","c":"293T","lo":1.6e-5,"q1":2.1e-5,"md":2.5e-5,"q3":2.8e-5,"hi":3.3e-5},
{"p":"AG","o":"VP30","c":"EpoNi/22.1","lo":2.0e-5,"q1":2.4e-5,"md":2.8e-5,"q3":3.1e-5,"hi":3.5e-5},
{"p":"AG","o":"VP24","c":"293T","lo":1.7e-5,"q1":2.1e-5,"md":2.5e-5,"q3":2.8e-5,"hi":3.2e-5},
{"p":"AG","o":"VP24","c":"EpoNi/22.1","lo":2.0e-5,"q1":2.5e-5,"md":2.8e-5,"q3":3.1e-5,"hi":3.5e-5},
{"p":"AG","o":"L","c":"293T","lo":1.8e-5,"q1":2.2e-5,"md":2.6e-5,"q3":2.9e-5,"hi":3.3e-5},
{"p":"AG","o":"L","c":"EpoNi/22.1","lo":2.0e-5,"q1":2.4e-5,"md":2.8e-5,"q3":3.1e-5,"hi":3.5e-5},
{"p":"AG","o":"Non Coding","c":"293T","lo":2.1e-5,"q1":2.4e-5,"md":2.8e-5,"q3":3.1e-5,"hi":3.5e-5},
{"p":"AG","o":"Non Coding","c":"EpoNi/22.1","lo":2.2e-5,"q1":2.6e-5,"md":3.0e-5,"q3":3.4e-5,"hi":3.7e-5},
{"p":"AC","o":"NP","c":"293T","lo":3.0e-6,"q1":6.5e-6,"md":1.1e-5,"q3":1.8e-5,"hi":2.6e-5},
{"p":"AC","o":"NP","c":"EpoNi/22.1","lo":1.2e-6,"q1":5.0e-6,"md":7.0e-6,"q3":1.5e-5,"hi":2.4e-5},
{"p":"AC","o":"VP35","c":"293T","lo":2.5e-6,"q1":6.5e-6,"md":1.1e-5,"q3":1.8e-5,"hi":2.6e-5},
{"p":"AC","o":"VP35","c":"EpoNi/22.1","lo":1.5e-6,"q1":5.5e-6,"md":8.0e-6,"q3":1.5e-5,"hi":2.4e-5},
{"p":"AC","o":"VP40","c":"293T","lo":3.0e-6,"q1":7.0e-6,"md":1.2e-5,"q3":1.8e-5,"hi":2.7e-5},
{"p":"AC","o":"VP40","c":"EpoNi/22.1","lo":1.2e-6,"q1":5.0e-6,"md":8.0e-6,"q3":1.4e-5,"hi":2.3e-5},
{"p":"AC","o":"GP","c":"293T","lo":3.0e-6,"q1":7.5e-6,"md":1.2e-5,"q3":2.0e-5,"hi":2.8e-5},
{"p":"AC","o":"GP","c":"EpoNi/22.1","lo":2.0e-6,"q1":5.5e-6,"md":9.0e-6,"q3":1.5e-5,"hi":2.3e-5},
{"p":"AC","o":"VP30","c":"293T","lo":2.5e-6,"q1":6.5e-6,"md":1.0e-5,"q3":1.7e-5,"hi":2.5e-5},
{"p":"AC","o":"VP30","c":"EpoNi/22.1","lo":1.5e-6,"q1":5.0e-6,"md":8.5e-6,"q3":1.4e-5,"hi":2.3e-5},
{"p":"AC","o":"VP24","c":"293T","lo":2.0e-6,"q1":6.0e-6,"md":1.0e-5,"q3":1.6e-5,"hi":2.4e-5},
{"p":"AC","o":"VP24","c":"EpoNi/22.1","lo":1.8e-6,"q1":5.0e-6,"md":8.0e-6,"q3":1.3e-5,"hi":2.2e-5},
{"p":"AC","o":"L","c":"293T","lo":1.5e-6,"q1":5.0e-6,"md":8.5e-6,"q3":1.4e-5,"hi":2.2e-5},
{"p":"AC","o":"L","c":"EpoNi/22.1","lo":2.0e-6,"q1":5.0e-6,"md":8.0e-6,"q3":1.2e-5,"hi":2.0e-5},
{"p":"AC","o":"Non Coding","c":"293T","lo":2.5e-6,"q1":6.5e-6,"md":1.0e-5,"q3":1.7e-5,"hi":2.5e-5},
{"p":"AC","o":"Non Coding","c":"EpoNi/22.1","lo":1.0e-6,"q1":5.0e-6,"md":9.0e-6,"q3":1.3e-5,"hi":2.0e-5}
],
"ptsB":[
{"p":"UG","o":"VP30","c":"EpoNi/22.1","v":1.07e-7},{"p":"UG","o":"L","c":"EpoNi/22.1","v":5.2e-7},{"p":"UG","o":"L","c":"EpoNi/22.1","v":1.07e-7},{"p":"UG","o":"Non Coding","c":"293T","v":1.0e-6},{"p":"UG","o":"Non Coding","c":"EpoNi/22.1","v":5.9e-7},{"p":"UG","o":"Non Coding","c":"EpoNi/22.1","v":1.07e-7},
{"p":"UC","o":"NP","c":"293T","v":3.4e-6},{"p":"UC","o":"NP","c":"EpoNi/22.1","v":1.02e-5},{"p":"UC","o":"NP","c":"EpoNi/22.1","v":1.05e-6},
{"p":"UC","o":"VP35","c":"293T","v":4.9e-6},{"p":"UC","o":"VP35","c":"293T","v":3.9e-6},{"p":"UC","o":"VP35","c":"293T","v":2.4e-6},{"p":"UC","o":"VP35","c":"293T","v":1.95e-6},{"p":"UC","o":"VP35","c":"EpoNi/22.1","v":7.5e-6},{"p":"UC","o":"VP35","c":"EpoNi/22.1","v":1.05e-6},
{"p":"UC","o":"VP40","c":"293T","v":5.5e-6},{"p":"UC","o":"VP40","c":"293T","v":3.7e-6},{"p":"UC","o":"VP40","c":"293T","v":2.8e-6},{"p":"UC","o":"VP40","c":"EpoNi/22.1","v":3.3e-6},{"p":"UC","o":"VP40","c":"EpoNi/22.1","v":1.36e-6},
{"p":"UC","o":"GP","c":"293T","v":5.9e-6},{"p":"UC","o":"GP","c":"293T","v":4.9e-6},{"p":"UC","o":"GP","c":"293T","v":3.9e-6},{"p":"UC","o":"GP","c":"EpoNi/22.1","v":1.2e-5},{"p":"UC","o":"GP","c":"EpoNi/22.1","v":8.9e-6},{"p":"UC","o":"GP","c":"EpoNi/22.1","v":2.1e-6},
{"p":"UC","o":"VP30","c":"293T","v":1.27e-6},{"p":"UC","o":"VP30","c":"EpoNi/22.1","v":9.5e-6},{"p":"UC","o":"VP30","c":"EpoNi/22.1","v":3.9e-6},{"p":"UC","o":"VP30","c":"EpoNi/22.1","v":9.3e-7},
{"p":"UC","o":"VP24","c":"293T","v":1.8e-6},{"p":"UC","o":"VP24","c":"293T","v":1.27e-6},{"p":"UC","o":"VP24","c":"EpoNi/22.1","v":4.2e-6},{"p":"UC","o":"VP24","c":"EpoNi/22.1","v":1.18e-6},
{"p":"UC","o":"L","c":"293T","v":2.9e-6},{"p":"UC","o":"L","c":"293T","v":2.1e-6},{"p":"UC","o":"L","c":"293T","v":1.5e-6},{"p":"UC","o":"L","c":"293T","v":1.1e-6},{"p":"UC","o":"L","c":"EpoNi/22.1","v":1.02e-5},{"p":"UC","o":"L","c":"EpoNi/22.1","v":3.4e-6},{"p":"UC","o":"L","c":"EpoNi/22.1","v":1.05e-6},
{"p":"UC","o":"Non Coding","c":"293T","v":3.4e-6},{"p":"UC","o":"Non Coding","c":"293T","v":1.6e-6},{"p":"UC","o":"Non Coding","c":"293T","v":1.27e-6},{"p":"UC","o":"Non Coding","c":"293T","v":1.05e-6},{"p":"UC","o":"Non Coding","c":"EpoNi/22.1","v":3.4e-6},{"p":"UC","o":"Non Coding","c":"EpoNi/22.1","v":1.18e-6},
{"p":"UA","o":"VP40","c":"293T","v":7.5e-7},{"p":"UA","o":"VP40","c":"293T","v":1.55e-7},{"p":"UA","o":"GP","c":"EpoNi/22.1","v":1.3e-6},{"p":"UA","o":"GP","c":"EpoNi/22.1","v":8.9e-7},{"p":"UA","o":"VP30","c":"EpoNi/22.1","v":8.9e-7},{"p":"UA","o":"VP30","c":"EpoNi/22.1","v":5.5e-7},{"p":"UA","o":"VP24","c":"EpoNi/22.1","v":7.5e-7},{"p":"UA","o":"L","c":"EpoNi/22.1","v":8.6e-7},{"p":"UA","o":"L","c":"EpoNi/22.1","v":7.5e-7},{"p":"UA","o":"L","c":"EpoNi/22.1","v":6.2e-7},{"p":"UA","o":"Non Coding","c":"EpoNi/22.1","v":1.4e-6},{"p":"UA","o":"Non Coding","c":"EpoNi/22.1","v":7.7e-7},
{"p":"GU","o":"NP","c":"293T","v":3.3e-6},{"p":"GU","o":"NP","c":"EpoNi/22.1","v":5.9e-6},{"p":"GU","o":"NP","c":"EpoNi/22.1","v":4.1e-6},{"p":"GU","o":"NP","c":"EpoNi/22.1","v":1.17e-6},
{"p":"GU","o":"VP35","c":"293T","v":3.3e-6},{"p":"GU","o":"VP35","c":"293T","v":2.65e-6},{"p":"GU","o":"VP35","c":"EpoNi/22.1","v":3.3e-6},{"p":"GU","o":"VP35","c":"EpoNi/22.1","v":7.0e-7},
{"p":"GU","o":"VP40","c":"293T","v":3.3e-6},{"p":"GU","o":"VP40","c":"293T","v":2.65e-6},{"p":"GU","o":"VP40","c":"293T","v":1.7e-6},{"p":"GU","o":"VP40","c":"293T","v":1.36e-6},{"p":"GU","o":"VP40","c":"EpoNi/22.1","v":6.9e-6},{"p":"GU","o":"VP40","c":"EpoNi/22.1","v":3.0e-6},{"p":"GU","o":"VP40","c":"EpoNi/22.1","v":8.0e-7},
{"p":"GU","o":"GP","c":"293T","v":3.9e-6},{"p":"GU","o":"GP","c":"293T","v":3.3e-6},{"p":"GU","o":"GP","c":"293T","v":2.65e-6},{"p":"GU","o":"GP","c":"EpoNi/22.1","v":6.9e-6},{"p":"GU","o":"GP","c":"EpoNi/22.1","v":4.9e-6},{"p":"GU","o":"GP","c":"EpoNi/22.1","v":1.04e-6},
{"p":"GU","o":"VP30","c":"293T","v":3.2e-6},{"p":"GU","o":"VP30","c":"293T","v":2.65e-6},{"p":"GU","o":"VP30","c":"293T","v":2.1e-6},{"p":"GU","o":"VP30","c":"EpoNi/22.1","v":1.0e-5},{"p":"GU","o":"VP30","c":"EpoNi/22.1","v":4.9e-6},{"p":"GU","o":"VP30","c":"EpoNi/22.1","v":1.17e-6},
{"p":"GU","o":"VP24","c":"293T","v":3.5e-6},{"p":"GU","o":"VP24","c":"293T","v":1.1e-6},{"p":"GU","o":"VP24","c":"EpoNi/22.1","v":7.3e-6},{"p":"GU","o":"VP24","c":"EpoNi/22.1","v":2.65e-6},{"p":"GU","o":"VP24","c":"EpoNi/22.1","v":1.94e-6},
{"p":"GU","o":"L","c":"293T","v":2.95e-6},{"p":"GU","o":"L","c":"293T","v":2.4e-6},{"p":"GU","o":"L","c":"293T","v":2.0e-6},{"p":"GU","o":"L","c":"EpoNi/22.1","v":6.1e-6},{"p":"GU","o":"L","c":"EpoNi/22.1","v":3.0e-6},{"p":"GU","o":"L","c":"EpoNi/22.1","v":8.4e-7},
{"p":"GU","o":"Non Coding","c":"293T","v":3.9e-6},{"p":"GU","o":"Non Coding","c":"293T","v":3.2e-6},{"p":"GU","o":"Non Coding","c":"293T","v":2.55e-6},{"p":"GU","o":"Non Coding","c":"293T","v":2.0e-6},{"p":"GU","o":"Non Coding","c":"EpoNi/22.1","v":6.9e-6},{"p":"GU","o":"Non Coding","c":"EpoNi/22.1","v":4.9e-6},{"p":"GU","o":"Non Coding","c":"EpoNi/22.1","v":1.36e-6},
{"p":"GC","o":"NP","c":"293T","v":1.45e-6},{"p":"GC","o":"NP","c":"293T","v":1.17e-6},{"p":"GC","o":"NP","c":"EpoNi/22.1","v":4.0e-7},{"p":"GC","o":"VP35","c":"293T","v":7.8e-7},{"p":"GC","o":"VP35","c":"EpoNi/22.1","v":5.8e-7},{"p":"GC","o":"VP35","c":"EpoNi/22.1","v":4.6e-7},
{"p":"GC","o":"VP40","c":"293T","v":6.7e-7},{"p":"GC","o":"VP40","c":"EpoNi/22.1","v":1.45e-6},{"p":"GC","o":"VP40","c":"EpoNi/22.1","v":2.8e-7},{"p":"GC","o":"GP","c":"293T","v":1.49e-6},{"p":"GC","o":"GP","c":"EpoNi/22.1","v":1.45e-6},{"p":"GC","o":"GP","c":"EpoNi/22.1","v":6.9e-7},
{"p":"GC","o":"VP30","c":"293T","v":8.6e-7},{"p":"GC","o":"VP30","c":"EpoNi/22.1","v":1.58e-6},{"p":"GC","o":"VP30","c":"EpoNi/22.1","v":7.8e-7},{"p":"GC","o":"VP24","c":"EpoNi/22.1","v":4.6e-7},{"p":"GC","o":"L","c":"EpoNi/22.1","v":7.4e-7},{"p":"GC","o":"L","c":"EpoNi/22.1","v":4.6e-7},{"p":"GC","o":"Non Coding","c":"EpoNi/22.1","v":6.9e-7},{"p":"GC","o":"Non Coding","c":"EpoNi/22.1","v":9.1e-8},
{"p":"GA","o":"NP","c":"293T","v":7.8e-5},{"p":"GA","o":"NP","c":"293T","v":2.1e-6},{"p":"GA","o":"NP","c":"EpoNi/22.1","v":3.8e-6},
{"p":"GA","o":"VP35","c":"293T","v":3.6e-6},{"p":"GA","o":"VP35","c":"293T","v":2.2e-6},{"p":"GA","o":"VP35","c":"293T","v":1.47e-6},{"p":"GA","o":"VP35","c":"293T","v":1.2e-6},{"p":"GA","o":"VP35","c":"EpoNi/22.1","v":3.3e-5},{"p":"GA","o":"VP35","c":"EpoNi/22.1","v":1.25e-6},
{"p":"GA","o":"VP40","c":"293T","v":4.5e-5},{"p":"GA","o":"VP40","c":"293T","v":9.8e-6},{"p":"GA","o":"VP40","c":"293T","v":6.1e-6},{"p":"GA","o":"VP40","c":"293T","v":4.2e-6},{"p":"GA","o":"VP40","c":"293T","v":3.0e-6},{"p":"GA","o":"VP40","c":"293T","v":2.4e-6},{"p":"GA","o":"VP40","c":"293T","v":1.9e-6},{"p":"GA","o":"VP40","c":"EpoNi/22.1","v":7.8e-7},
{"p":"GA","o":"GP","c":"293T","v":7.3e-5},{"p":"GA","o":"GP","c":"293T","v":6.2e-5},{"p":"GA","o":"GP","c":"293T","v":4.5e-5},{"p":"GA","o":"GP","c":"293T","v":9.3e-6},{"p":"GA","o":"GP","c":"293T","v":6.3e-6},{"p":"GA","o":"GP","c":"293T","v":3.6e-6},{"p":"GA","o":"GP","c":"293T","v":2.6e-6},{"p":"GA","o":"GP","c":"293T","v":1.6e-6},{"p":"GA","o":"GP","c":"293T","v":1.3e-6},{"p":"GA","o":"GP","c":"EpoNi/22.1","v":1.0e-4},{"p":"GA","o":"GP","c":"EpoNi/22.1","v":1.3e-6},
{"p":"GA","o":"VP30","c":"293T","v":6.8e-5},{"p":"GA","o":"VP30","c":"293T","v":2.2e-6},{"p":"GA","o":"VP30","c":"293T","v":1.6e-6},{"p":"GA","o":"VP30","c":"293T","v":1.3e-6},{"p":"GA","o":"VP30","c":"293T","v":1.0e-6},{"p":"GA","o":"VP30","c":"EpoNi/22.1","v":1.37e-4},{"p":"GA","o":"VP30","c":"EpoNi/22.1","v":2.25e-5},{"p":"GA","o":"VP30","c":"EpoNi/22.1","v":7.2e-6},
{"p":"GA","o":"VP24","c":"293T","v":4.8e-5},{"p":"GA","o":"VP24","c":"293T","v":4.1e-5},{"p":"GA","o":"VP24","c":"293T","v":3.8e-6},{"p":"GA","o":"VP24","c":"293T","v":2.2e-6},{"p":"GA","o":"VP24","c":"293T","v":1.4e-6},{"p":"GA","o":"VP24","c":"293T","v":1.0e-6},{"p":"GA","o":"VP24","c":"293T","v":7.8e-7},{"p":"GA","o":"VP24","c":"EpoNi/22.1","v":1.6e-6},
{"p":"GA","o":"L","c":"293T","v":1.47e-6},{"p":"GA","o":"L","c":"293T","v":1.2e-6},{"p":"GA","o":"L","c":"EpoNi/22.1","v":7.8e-5},{"p":"GA","o":"L","c":"EpoNi/22.1","v":1.0e-6},
{"p":"GA","o":"Non Coding","c":"293T","v":1.5e-6},{"p":"GA","o":"Non Coding","c":"293T","v":1.0e-6},{"p":"GA","o":"Non Coding","c":"EpoNi/22.1","v":9.4e-5},{"p":"GA","o":"Non Coding","c":"EpoNi/22.1","v":1.47e-6},
{"p":"CU","o":"VP35","c":"EpoNi/22.1","v":5.3e-4},{"p":"CU","o":"VP35","c":"EpoNi/22.1","v":1.53e-4},{"p":"CU","o":"VP40","c":"EpoNi/22.1","v":7.3e-4},{"p":"CU","o":"VP40","c":"EpoNi/22.1","v":1.63e-4},{"p":"CU","o":"GP","c":"EpoNi/22.1","v":5.9e-4},{"p":"CU","o":"GP","c":"EpoNi/22.1","v":1.63e-4},{"p":"CU","o":"VP30","c":"EpoNi/22.1","v":7.3e-4},{"p":"CU","o":"VP30","c":"EpoNi/22.1","v":1.4e-4},{"p":"CU","o":"VP24","c":"EpoNi/22.1","v":7.3e-4},{"p":"CU","o":"VP24","c":"EpoNi/22.1","v":1.53e-4},
{"p":"CG","o":"VP40","c":"EpoNi/22.1","v":7.8e-7},{"p":"CG","o":"VP24","c":"293T","v":1.85e-7},{"p":"CG","o":"VP24","c":"EpoNi/22.1","v":1.85e-7},{"p":"CG","o":"L","c":"293T","v":1.85e-7},{"p":"CG","o":"L","c":"EpoNi/22.1","v":4.1e-7},{"p":"CG","o":"L","c":"EpoNi/22.1","v":1.85e-7},
{"p":"CA","o":"NP","c":"EpoNi/22.1","v":2.05e-6},{"p":"CA","o":"NP","c":"EpoNi/22.1","v":1.6e-6},{"p":"CA","o":"NP","c":"EpoNi/22.1","v":7.1e-7},{"p":"CA","o":"VP35","c":"293T","v":8.1e-7},{"p":"CA","o":"VP35","c":"EpoNi/22.1","v":1.28e-6},{"p":"CA","o":"VP35","c":"EpoNi/22.1","v":8.1e-7},
{"p":"CA","o":"VP40","c":"EpoNi/22.1","v":2.67e-6},{"p":"CA","o":"VP40","c":"EpoNi/22.1","v":1.1e-6},{"p":"CA","o":"GP","c":"EpoNi/22.1","v":1.67e-6},{"p":"CA","o":"GP","c":"EpoNi/22.1","v":9.4e-7},{"p":"CA","o":"VP30","c":"293T","v":9.4e-7},{"p":"CA","o":"VP30","c":"EpoNi/22.1","v":1.9e-6},{"p":"CA","o":"VP30","c":"EpoNi/22.1","v":7.7e-7},
{"p":"CA","o":"VP24","c":"EpoNi/22.1","v":1.1e-6},{"p":"CA","o":"L","c":"EpoNi/22.1","v":2.05e-6},{"p":"CA","o":"L","c":"EpoNi/22.1","v":1.13e-6},{"p":"CA","o":"L","c":"EpoNi/22.1","v":7.3e-7},{"p":"CA","o":"Non Coding","c":"EpoNi/22.1","v":2.4e-6},{"p":"CA","o":"Non Coding","c":"EpoNi/22.1","v":1.28e-6},{"p":"CA","o":"Non Coding","c":"EpoNi/22.1","v":9.7e-7},
{"p":"AU","o":"NP","c":"293T","v":1.05e-6},{"p":"AU","o":"NP","c":"EpoNi/22.1","v":1.1e-6},{"p":"AU","o":"VP35","c":"EpoNi/22.1","v":1.4e-6},{"p":"AU","o":"VP40","c":"293T","v":1.4e-6},{"p":"AU","o":"VP40","c":"293T","v":1.05e-6},{"p":"AU","o":"VP40","c":"EpoNi/22.1","v":1.24e-6},{"p":"AU","o":"GP","c":"293T","v":1.24e-6},{"p":"AU","o":"GP","c":"EpoNi/22.1","v":1.24e-6},{"p":"AU","o":"VP30","c":"EpoNi/22.1","v":1.33e-6},{"p":"AU","o":"VP24","c":"EpoNi/22.1","v":8.5e-7},{"p":"AU","o":"L","c":"EpoNi/22.1","v":1.1e-6},{"p":"AU","o":"L","c":"EpoNi/22.1","v":9.2e-7},{"p":"AU","o":"Non Coding","c":"EpoNi/22.1","v":1.7e-6},{"p":"AU","o":"Non Coding","c":"EpoNi/22.1","v":1.1e-6},
{"p":"AG","o":"NP","c":"293T","v":4.5e-6},{"p":"AG","o":"NP","c":"293T","v":3.0e-6},{"p":"AG","o":"VP35","c":"293T","v":3.3e-6},{"p":"AG","o":"VP35","c":"293T","v":1.4e-6},{"p":"AG","o":"VP35","c":"293T","v":8.0e-7},{"p":"AG","o":"VP35","c":"EpoNi/22.1","v":1.2e-5},{"p":"AG","o":"VP40","c":"293T","v":9.0e-6},{"p":"AG","o":"GP","c":"293T","v":4.5e-6},{"p":"AG","o":"GP","c":"293T","v":3.0e-6},{"p":"AG","o":"GP","c":"EpoNi/22.1","v":1.3e-5},{"p":"AG","o":"VP30","c":"293T","v":5.0e-6},{"p":"AG","o":"VP24","c":"293T","v":4.2e-6},{"p":"AG","o":"VP24","c":"293T","v":2.8e-6},{"p":"AG","o":"VP24","c":"293T","v":1.7e-6},{"p":"AG","o":"VP24","c":"EpoNi/22.1","v":1.1e-6},{"p":"AG","o":"L","c":"293T","v":4.5e-6},{"p":"AG","o":"L","c":"293T","v":3.3e-6},{"p":"AG","o":"L","c":"293T","v":2.3e-6},{"p":"AG","o":"Non Coding","c":"293T","v":1.5e-6},{"p":"AG","o":"Non Coding","c":"EpoNi/22.1","v":1.5e-5},
{"p":"AC","o":"GP","c":"EpoNi/22.1","v":1.0e-6},{"p":"AC","o":"Non Coding","c":"EpoNi/22.1","v":8.0e-7},{"p":"AC","o":"Non Coding","c":"EpoNi/22.1","v":6.0e-7}
]
},
"vconcat":[
{"hconcat":[
 {"width":60,"height":226,"data":{"values":[]},"mark":"point",
  "title":{"text":"A","anchor":"start","frame":"group","fontSize":13,"fontWeight":"bold","offset":0,"dx":-50,"dy":11}},
 {"width":375,"height":226,"data":{"name":"boxA"},
  "encoding":{"x":{"field":"t","type":"nominal","sort":["CU","AG","GA","UC","GU","UG","AC","GC","AU","CA","UA","CG"],"scale":{"paddingInner":0.25,"paddingOuter":0.225},
    "axis":{"title":"Mutation Type","labelFontSize":14,"tickSize":4,"labelPadding":3,"titleFontSize":14,"titlePadding":6}}},
  "layer":[
   {"mark":{"type":"rule","strokeWidth":1.4},"encoding":{"xOffset":{"field":"c","type":"nominal"},
     "y":{"field":"lo","type":"quantitative","title":"Mutation Rate (MLE)","scale":{"type":"log","domain":[7e-8,2.2e-3],"nice":false},
       "axis":{"values":[1e-6,1e-5,1e-4,1e-3],"labelExpr":"replace(format(datum.value,'.0e'),'e-','e-0')","labelFontSize":14,"tickSize":4,"labelPadding":3,"titleFontSize":14,"titlePadding":14}},
     "y2":{"field":"hi"},"color":{"field":"c","type":"nominal","legend":null}}},
   {"mark":{"type":"bar","fill":"white","strokeWidth":1.4},"encoding":{"xOffset":{"field":"c","type":"nominal"},
     "y":{"field":"q1","type":"quantitative","title":"Mutation Rate (MLE)"},"y2":{"field":"q3"},
     "stroke":{"field":"c","type":"nominal","legend":{"title":null,"orient":"none","legendX":455,"legendY":106,"padding":0,
       "symbolType":"M-1,-0.6H1V0.6H-1Z M0,-0.6V-1 M0,0.6V1 M-1,0H1","symbolSize":400,"symbolStrokeWidth":1.5,"symbolFillColor":"white",
       "labelFontSize":13,"labelColor":"black","labelOffset":10,"rowPadding":0}}}},
   {"mark":{"type":"tick","size":11.5,"thickness":2.5},"encoding":{"xOffset":{"field":"c","type":"nominal"},
     "y":{"field":"md","type":"quantitative","title":"Mutation Rate (MLE)"},"color":{"field":"c","type":"nominal","legend":null}}},
   {"data":{"name":"ptsA"},"mark":{"type":"point","filled":true,"size":22,"opacity":1},"encoding":{"xOffset":{"field":"c","type":"nominal"},
     "y":{"field":"v","type":"quantitative","title":"Mutation Rate (MLE)"},"color":{"field":"c","type":"nominal","legend":null}}},
   {"data":{"name":"annot"},"mark":{"type":"tick","size":21,"thickness":1.2,"color":"black"},"encoding":{
     "y":{"field":"y","type":"quantitative","title":"Mutation Rate (MLE)"}}},
   {"data":{"name":"annot"},"mark":{"type":"text","fontSize":16,"baseline":"alphabetic","color":"black"},"encoding":{
     "y":{"field":"ty","type":"quantitative","title":"Mutation Rate (MLE)"},"text":{"field":"label"}}}
  ]}
 ],"spacing":0,"bounds":"flush"},
{"title":{"text":"B","anchor":"start","frame":"bounds","fontSize":13,"fontWeight":"bold","offset":0,"dx":3,"dy":19},
 "vconcat":[{
 "title":{"text":"Mutation Rate (MLE)","orient":"left","anchor":"middle","frame":"bounds","fontSize":14,"offset":7},
 "columns":3,"spacing":{"row":16,"column":23},
 "concat":[
 {"title":"UG","width":190,"height":64,"data":{"name":"boxB"},"transform":[{"filter":"datum.p==='UG'"}],"encoding":{"x":{"field":"o","type":"nominal","sort":["NP","VP35","VP40","GP","VP30","VP24","L","Non Coding"],"scale":{"paddingInner":0.25,"paddingOuter":0.225},"axis":{"title":"ORF","labelExpr":"datum.value==='Non Coding'?['Non','Coding']:datum.value"}}},"layer":[
  {"mark":{"type":"rule","strokeWidth":1.1},"encoding":{"xOffset":{"field":"c","type":"nominal"},"y":{"field":"lo","type":"quantitative","title":null,"scale":{"type":"log","domain":[7.6e-8,6.6e-5],"nice":false},"axis":{"values":[1e-6,1e-5],"labelExpr":"replace(format(datum.value,'.0e'),'e-','e-0')"}},"y2":{"field":"hi"},"color":{"field":"c","type":"nominal","legend":null}}},
  {"mark":{"type":"bar","fill":"white","strokeWidth":1.1},"encoding":{"xOffset":{"field":"c","type":"nominal"},"y":{"field":"q1","type":"quantitative","title":null},"y2":{"field":"q3"},"stroke":{"field":"c","type":"nominal","legend":null}}},
  {"mark":{"type":"tick","size":8.7,"thickness":2},"encoding":{"xOffset":{"field":"c","type":"nominal"},"y":{"field":"md","type":"quantitative","title":null},"color":{"field":"c","type":"nominal","legend":null}}},
  {"data":{"name":"ptsB"},"transform":[{"filter":"datum.p==='UG'"}],"mark":{"type":"point","filled":true,"size":20,"opacity":1},"encoding":{"xOffset":{"field":"c","type":"nominal"},"y":{"field":"v","type":"quantitative","title":null},"color":{"field":"c","type":"nominal","legend":null}}}]},
 {"title":"UC","width":190,"height":64,"data":{"name":"boxB"},"transform":[{"filter":"datum.p==='UC'"}],"encoding":{"x":{"field":"o","type":"nominal","sort":["NP","VP35","VP40","GP","VP30","VP24","L","Non Coding"],"scale":{"paddingInner":0.25,"paddingOuter":0.225},"axis":{"title":"ORF","labelExpr":"datum.value==='Non Coding'?['Non','Coding']:datum.value"}}},"layer":[
  {"mark":{"type":"rule","strokeWidth":1.1},"encoding":{"xOffset":{"field":"c","type":"nominal"},"y":{"field":"lo","type":"quantitative","title":null,"scale":{"type":"log","domain":[7.5e-7,7.5e-5],"nice":false},"axis":{"values":[1e-6,1e-5],"labelExpr":"replace(format(datum.value,'.0e'),'e-','e-0')"}},"y2":{"field":"hi"},"color":{"field":"c","type":"nominal","legend":null}}},
  {"mark":{"type":"bar","fill":"white","strokeWidth":1.1},"encoding":{"xOffset":{"field":"c","type":"nominal"},"y":{"field":"q1","type":"quantitative","title":null},"y2":{"field":"q3"},"stroke":{"field":"c","type":"nominal","legend":null}}},
  {"mark":{"type":"tick","size":8.7,"thickness":2},"encoding":{"xOffset":{"field":"c","type":"nominal"},"y":{"field":"md","type":"quantitative","title":null},"color":{"field":"c","type":"nominal","legend":null}}},
  {"data":{"name":"ptsB"},"transform":[{"filter":"datum.p==='UC'"}],"mark":{"type":"point","filled":true,"size":20,"opacity":1},"encoding":{"xOffset":{"field":"c","type":"nominal"},"y":{"field":"v","type":"quantitative","title":null},"color":{"field":"c","type":"nominal","legend":null}}}]},
 {"title":"UA","width":190,"height":64,"data":{"name":"boxB"},"transform":[{"filter":"datum.p==='UA'"}],"encoding":{"x":{"field":"o","type":"nominal","sort":["NP","VP35","VP40","GP","VP30","VP24","L","Non Coding"],"scale":{"paddingInner":0.25,"paddingOuter":0.225},"axis":{"title":"ORF","labelExpr":"datum.value==='Non Coding'?['Non','Coding']:datum.value"}}},"layer":[
  {"mark":{"type":"rule","strokeWidth":1.1},"encoding":{"xOffset":{"field":"c","type":"nominal"},"y":{"field":"lo","type":"quantitative","title":null,"scale":{"type":"log","domain":[1.19e-7,8.4e-6],"nice":false},"axis":{"values":[1e-6],"labelExpr":"replace(format(datum.value,'.0e'),'e-','e-0')"}},"y2":{"field":"hi"},"color":{"field":"c","type":"nominal","legend":null}}},
  {"mark":{"type":"bar","fill":"white","strokeWidth":1.1},"encoding":{"xOffset":{"field":"c","type":"nominal"},"y":{"field":"q1","type":"quantitative","title":null},"y2":{"field":"q3"},"stroke":{"field":"c","type":"nominal","legend":null}}},
  {"mark":{"type":"tick","size":8.7,"thickness":2},"encoding":{"xOffset":{"field":"c","type":"nominal"},"y":{"field":"md","type":"quantitative","title":null},"color":{"field":"c","type":"nominal","legend":null}}},
  {"data":{"name":"ptsB"},"transform":[{"filter":"datum.p==='UA'"}],"mark":{"type":"point","filled":true,"size":20,"opacity":1},"encoding":{"xOffset":{"field":"c","type":"nominal"},"y":{"field":"v","type":"quantitative","title":null},"color":{"field":"c","type":"nominal","legend":null}}}]},
 {"title":"GU","width":190,"height":64,"data":{"name":"boxB"},"transform":[{"filter":"datum.p==='GU'"}],"encoding":{"x":{"field":"o","type":"nominal","sort":["NP","VP35","VP40","GP","VP30","VP24","L","Non Coding"],"scale":{"paddingInner":0.25,"paddingOuter":0.225},"axis":{"title":"ORF","labelExpr":"datum.value==='Non Coding'?['Non','Coding']:datum.value"}}},"layer":[
  {"mark":{"type":"rule","strokeWidth":1.1},"encoding":{"xOffset":{"field":"c","type":"nominal"},"y":{"field":"lo","type":"quantitative","title":null,"scale":{"type":"log","domain":[5.4e-7,4.0e-5],"nice":false},"axis":{"values":[1e-6,1e-5],"labelExpr":"replace(format(datum.value,'.0e'),'e-','e-0')"}},"y2":{"field":"hi"},"color":{"field":"c","type":"nominal","legend":null}}},
  {"mark":{"type":"bar","fill":"white","strokeWidth":1.1},"encoding":{"xOffset":{"field":"c","type":"nominal"},"y":{"field":"q1","type":"quantitative","title":null},"y2":{"field":"q3"},"stroke":{"field":"c","type":"nominal","legend":null}}},
  {"mark":{"type":"tick","size":8.7,"thickness":2},"encoding":{"xOffset":{"field":"c","type":"nominal"},"y":{"field":"md","type":"quantitative","title":null},"color":{"field":"c","type":"nominal","legend":null}}},
  {"data":{"name":"ptsB"},"transform":[{"filter":"datum.p==='GU'"}],"mark":{"type":"point","filled":true,"size":20,"opacity":1},"encoding":{"xOffset":{"field":"c","type":"nominal"},"y":{"field":"v","type":"quantitative","title":null},"color":{"field":"c","type":"nominal","legend":null}}}]},
 {"title":"GC","width":190,"height":64,"data":{"name":"boxB"},"transform":[{"filter":"datum.p==='GC'"}],"encoding":{"x":{"field":"o","type":"nominal","sort":["NP","VP35","VP40","GP","VP30","VP24","L","Non Coding"],"scale":{"paddingInner":0.25,"paddingOuter":0.225},"axis":{"title":"ORF","labelExpr":"datum.value==='Non Coding'?['Non','Coding']:datum.value"}}},"layer":[
  {"mark":{"type":"rule","strokeWidth":1.1},"encoding":{"xOffset":{"field":"c","type":"nominal"},"y":{"field":"lo","type":"quantitative","title":null,"scale":{"type":"log","domain":[6.3e-8,2.5e-5],"nice":false},"axis":{"values":[1e-6,1e-5],"labelExpr":"replace(format(datum.value,'.0e'),'e-','e-0')"}},"y2":{"field":"hi"},"color":{"field":"c","type":"nominal","legend":null}}},
  {"mark":{"type":"bar","fill":"white","strokeWidth":1.1},"encoding":{"xOffset":{"field":"c","type":"nominal"},"y":{"field":"q1","type":"quantitative","title":null},"y2":{"field":"q3"},"stroke":{"field":"c","type":"nominal","legend":null}}},
  {"mark":{"type":"tick","size":8.7,"thickness":2},"encoding":{"xOffset":{"field":"c","type":"nominal"},"y":{"field":"md","type":"quantitative","title":null},"color":{"field":"c","type":"nominal","legend":null}}},
  {"data":{"name":"ptsB"},"transform":[{"filter":"datum.p==='GC'"}],"mark":{"type":"point","filled":true,"size":20,"opacity":1},"encoding":{"xOffset":{"field":"c","type":"nominal"},"y":{"field":"v","type":"quantitative","title":null},"color":{"field":"c","type":"nominal","legend":null}}}]},
 {"title":"GA","width":190,"height":64,"data":{"name":"boxB"},"transform":[{"filter":"datum.p==='GA'"}],"encoding":{"x":{"field":"o","type":"nominal","sort":["NP","VP35","VP40","GP","VP30","VP24","L","Non Coding"],"scale":{"paddingInner":0.25,"paddingOuter":0.225},"axis":{"title":"ORF","labelExpr":"datum.value==='Non Coding'?['Non','Coding']:datum.value"}}},"layer":[
  {"mark":{"type":"rule","strokeWidth":1.1},"encoding":{"xOffset":{"field":"c","type":"nominal"},"y":{"field":"lo","type":"quantitative","title":null,"scale":{"type":"log","domain":[5.3e-7,2.6e-4],"nice":false},"axis":{"values":[1e-6,1e-5,1e-4],"labelExpr":"replace(format(datum.value,'.0e'),'e-','e-0')"}},"y2":{"field":"hi"},"color":{"field":"c","type":"nominal","legend":null}}},
  {"mark":{"type":"bar","fill":"white","strokeWidth":1.1},"encoding":{"xOffset":{"field":"c","type":"nominal"},"y":{"field":"q1","type":"quantitative","title":null},"y2":{"field":"q3"},"stroke":{"field":"c","type":"nominal","legend":null}}},
  {"mark":{"type":"tick","size":8.7,"thickness":2},"encoding":{"xOffset":{"field":"c","type":"nominal"},"y":{"field":"md","type":"quantitative","title":null},"color":{"field":"c","type":"nominal","legend":null}}},
  {"data":{"name":"ptsB"},"transform":[{"filter":"datum.p==='GA'"}],"mark":{"type":"point","filled":true,"size":20,"opacity":1},"encoding":{"xOffset":{"field":"c","type":"nominal"},"y":{"field":"v","type":"quantitative","title":null},"color":{"field":"c","type":"nominal","legend":null}}}]},
 {"title":"CU","width":190,"height":64,"data":{"name":"boxB"},"transform":[{"filter":"datum.p==='CU'"}],"encoding":{"x":{"field":"o","type":"nominal","sort":["NP","VP35","VP40","GP","VP30","VP24","L","Non Coding"],"scale":{"paddingInner":0.25,"paddingOuter":0.225},"axis":{"title":"ORF","labelExpr":"datum.value==='Non Coding'?['Non','Coding']:datum.value"}}},"layer":[
  {"mark":{"type":"rule","strokeWidth":1.1},"encoding":{"xOffset":{"field":"c","type":"nominal"},"y":{"field":"lo","type":"quantitative","title":null,"scale":{"type":"log","domain":[2.4e-5,1.38e-3],"nice":false},"axis":{"values":[1e-4,1e-3],"labelExpr":"replace(format(datum.value,'.0e'),'e-','e-0')"}},"y2":{"field":"hi"},"color":{"field":"c","type":"nominal","legend":null}}},
  {"mark":{"type":"bar","fill":"white","strokeWidth":1.1},"encoding":{"xOffset":{"field":"c","type":"nominal"},"y":{"field":"q1","type":"quantitative","title":null},"y2":{"field":"q3"},"stroke":{"field":"c","type":"nominal","legend":null}}},
  {"mark":{"type":"tick","size":8.7,"thickness":2},"encoding":{"xOffset":{"field":"c","type":"nominal"},"y":{"field":"md","type":"quantitative","title":null},"color":{"field":"c","type":"nominal","legend":null}}},
  {"data":{"name":"ptsB"},"transform":[{"filter":"datum.p==='CU'"}],"mark":{"type":"point","filled":true,"size":20,"opacity":1},"encoding":{"xOffset":{"field":"c","type":"nominal"},"y":{"field":"v","type":"quantitative","title":null},"color":{"field":"c","type":"nominal","legend":null}}}]},
 {"title":"CG","width":190,"height":64,"data":{"name":"boxB"},"transform":[{"filter":"datum.p==='CG'"}],"encoding":{"x":{"field":"o","type":"nominal","sort":["NP","VP35","VP40","GP","VP30","VP24","L","Non Coding"],"scale":{"paddingInner":0.25,"paddingOuter":0.225},"axis":{"title":"ORF","labelExpr":"datum.value==='Non Coding'?['Non','Coding']:datum.value"}}},"layer":[
  {"mark":{"type":"rule","strokeWidth":1.1},"encoding":{"xOffset":{"field":"c","type":"nominal"},"y":{"field":"lo","type":"quantitative","title":null,"scale":{"type":"log","domain":[1.47e-7,6.4e-6],"nice":false},"axis":{"values":[1e-6],"labelExpr":"replace(format(datum.value,'.0e'),'e-','e-0')"}},"y2":{"field":"hi"},"color":{"field":"c","type":"nominal","legend":null}}},
  {"mark":{"type":"bar","fill":"white","strokeWidth":1.1},"encoding":{"xOffset":{"field":"c","type":"nominal"},"y":{"field":"q1","type":"quantitative","title":null},"y2":{"field":"q3"},"stroke":{"field":"c","type":"nominal","legend":null}}},
  {"mark":{"type":"tick","size":8.7,"thickness":2},"encoding":{"xOffset":{"field":"c","type":"nominal"},"y":{"field":"md","type":"quantitative","title":null},"color":{"field":"c","type":"nominal","legend":null}}},
  {"data":{"name":"ptsB"},"transform":[{"filter":"datum.p==='CG'"}],"mark":{"type":"point","filled":true,"size":20,"opacity":1},"encoding":{"xOffset":{"field":"c","type":"nominal"},"y":{"field":"v","type":"quantitative","title":null},"color":{"field":"c","type":"nominal","legend":null}}}]},
 {"title":"CA","width":190,"height":64,"data":{"name":"boxB"},"transform":[{"filter":"datum.p==='CA'"}],"encoding":{"x":{"field":"o","type":"nominal","sort":["NP","VP35","VP40","GP","VP30","VP24","L","Non Coding"],"scale":{"paddingInner":0.25,"paddingOuter":0.225},"axis":{"title":"ORF","labelExpr":"datum.value==='Non Coding'?['Non','Coding']:datum.value"}}},"layer":[
  {"mark":{"type":"rule","strokeWidth":1.1},"encoding":{"xOffset":{"field":"c","type":"nominal"},"y":{"field":"lo","type":"quantitative","title":null,"scale":{"type":"log","domain":[6.1e-7,1.2e-5],"nice":false},"axis":{"values":[1e-6,1e-5],"labelExpr":"replace(format(datum.value,'.0e'),'e-','e-0')"}},"y2":{"field":"hi"},"color":{"field":"c","type":"nominal","legend":null}}},
  {"mark":{"type":"bar","fill":"white","strokeWidth":1.1},"encoding":{"xOffset":{"field":"c","type":"nominal"},"y":{"field":"q1","type":"quantitative","title":null},"y2":{"field":"q3"},"stroke":{"field":"c","type":"nominal","legend":null}}},
  {"mark":{"type":"tick","size":8.7,"thickness":2},"encoding":{"xOffset":{"field":"c","type":"nominal"},"y":{"field":"md","type":"quantitative","title":null},"color":{"field":"c","type":"nominal","legend":null}}},
  {"data":{"name":"ptsB"},"transform":[{"filter":"datum.p==='CA'"}],"mark":{"type":"point","filled":true,"size":20,"opacity":1},"encoding":{"xOffset":{"field":"c","type":"nominal"},"y":{"field":"v","type":"quantitative","title":null},"color":{"field":"c","type":"nominal","legend":null}}}]},
 {"title":"AU","width":190,"height":64,"data":{"name":"boxB"},"transform":[{"filter":"datum.p==='AU'"}],"encoding":{"x":{"field":"o","type":"nominal","sort":["NP","VP35","VP40","GP","VP30","VP24","L","Non Coding"],"scale":{"paddingInner":0.25,"paddingOuter":0.225},"axis":{"title":"ORF","labelExpr":"datum.value==='Non Coding'?['Non','Coding']:datum.value"}}},"layer":[
  {"mark":{"type":"rule","strokeWidth":1.1},"encoding":{"xOffset":{"field":"c","type":"nominal"},"y":{"field":"lo","type":"quantitative","title":null,"scale":{"type":"log","domain":[6.0e-7,1.47e-5],"nice":false},"axis":{"values":[1e-6,1e-5],"labelExpr":"replace(format(datum.value,'.0e'),'e-','e-0')"}},"y2":{"field":"hi"},"color":{"field":"c","type":"nominal","legend":null}}},
  {"mark":{"type":"bar","fill":"white","strokeWidth":1.1},"encoding":{"xOffset":{"field":"c","type":"nominal"},"y":{"field":"q1","type":"quantitative","title":null},"y2":{"field":"q3"},"stroke":{"field":"c","type":"nominal","legend":null}}},
  {"mark":{"type":"tick","size":8.7,"thickness":2},"encoding":{"xOffset":{"field":"c","type":"nominal"},"y":{"field":"md","type":"quantitative","title":null},"color":{"field":"c","type":"nominal","legend":null}}},
  {"data":{"name":"ptsB"},"transform":[{"filter":"datum.p==='AU'"}],"mark":{"type":"point","filled":true,"size":20,"opacity":1},"encoding":{"xOffset":{"field":"c","type":"nominal"},"y":{"field":"v","type":"quantitative","title":null},"color":{"field":"c","type":"nominal","legend":null}}}]},
 {"title":"AG","width":190,"height":64,"data":{"name":"boxB"},"transform":[{"filter":"datum.p==='AG'"}],"encoding":{"x":{"field":"o","type":"nominal","sort":["NP","VP35","VP40","GP","VP30","VP24","L","Non Coding"],"scale":{"paddingInner":0.25,"paddingOuter":0.225},"axis":{"title":"ORF","labelExpr":"datum.value==='Non Coding'?['Non','Coding']:datum.value"}}},"layer":[
  {"mark":{"type":"rule","strokeWidth":1.1},"encoding":{"xOffset":{"field":"c","type":"nominal"},"y":{"field":"lo","type":"quantitative","title":null,"scale":{"type":"log","domain":[6.6e-7,3.8e-5],"nice":false},"axis":{"values":[1e-6,1e-5],"labelExpr":"replace(format(datum.value,'.0e'),'e-','e-0')"}},"y2":{"field":"hi"},"color":{"field":"c","type":"nominal","legend":null}}},
  {"mark":{"type":"bar","fill":"white","strokeWidth":1.1},"encoding":{"xOffset":{"field":"c","type":"nominal"},"y":{"field":"q1","type":"quantitative","title":null},"y2":{"field":"q3"},"stroke":{"field":"c","type":"nominal","legend":null}}},
  {"mark":{"type":"tick","size":8.7,"thickness":2},"encoding":{"xOffset":{"field":"c","type":"nominal"},"y":{"field":"md","type":"quantitative","title":null},"color":{"field":"c","type":"nominal","legend":null}}},
  {"data":{"name":"ptsB"},"transform":[{"filter":"datum.p==='AG'"}],"mark":{"type":"point","filled":true,"size":20,"opacity":1},"encoding":{"xOffset":{"field":"c","type":"nominal"},"y":{"field":"v","type":"quantitative","title":null},"color":{"field":"c","type":"nominal","legend":null}}}]},
 {"title":"AC","width":190,"height":64,"data":{"name":"boxB"},"transform":[{"filter":"datum.p==='AC'"}],"encoding":{"x":{"field":"o","type":"nominal","sort":["NP","VP35","VP40","GP","VP30","VP24","L","Non Coding"],"scale":{"paddingInner":0.25,"paddingOuter":0.225},"axis":{"title":"ORF","labelExpr":"datum.value==='Non Coding'?['Non','Coding']:datum.value"}}},"layer":[
  {"mark":{"type":"rule","strokeWidth":1.1},"encoding":{"xOffset":{"field":"c","type":"nominal"},"y":{"field":"lo","type":"quantitative","title":null,"scale":{"type":"log","domain":[5.1e-7,3.9e-5],"nice":false},"axis":{"values":[1e-6,1e-5],"labelExpr":"replace(format(datum.value,'.0e'),'e-','e-0')"}},"y2":{"field":"hi"},"color":{"field":"c","type":"nominal","legend":null}}},
  {"mark":{"type":"bar","fill":"white","strokeWidth":1.1},"encoding":{"xOffset":{"field":"c","type":"nominal"},"y":{"field":"q1","type":"quantitative","title":null},"y2":{"field":"q3"},"stroke":{"field":"c","type":"nominal","legend":null}}},
  {"mark":{"type":"tick","size":8.7,"thickness":2},"encoding":{"xOffset":{"field":"c","type":"nominal"},"y":{"field":"md","type":"quantitative","title":null},"color":{"field":"c","type":"nominal","legend":null}}},
  {"data":{"name":"ptsB"},"transform":[{"filter":"datum.p==='AC'"}],"mark":{"type":"point","filled":true,"size":20,"opacity":1},"encoding":{"xOffset":{"field":"c","type":"nominal"},"y":{"field":"v","type":"quantitative","title":null},"color":{"field":"c","type":"nominal","legend":null}}}]}
 ]}]}
],
"spacing":14,
"config":{
 "font":"Liberation Sans",
 "view":{"stroke":null},
 "range":{"category":["#D8AE2E","#BF63D3"]},
 "axis":{"grid":false,"domainColor":"#000","domainWidth":1,"tickColor":"#000","tickWidth":1,"tickSize":3,"labelColor":"#4D4D4D","labelFontSize":10.5,"labelPadding":2,"titleColor":"#000","titleFontWeight":"normal","titleFontSize":12},
 "axisX":{"labelAngle":0,"labelFontSize":9,"titlePadding":-8},
 "title":{"fontWeight":"normal","fontSize":11,"color":"#000","offset":8}
}
}
